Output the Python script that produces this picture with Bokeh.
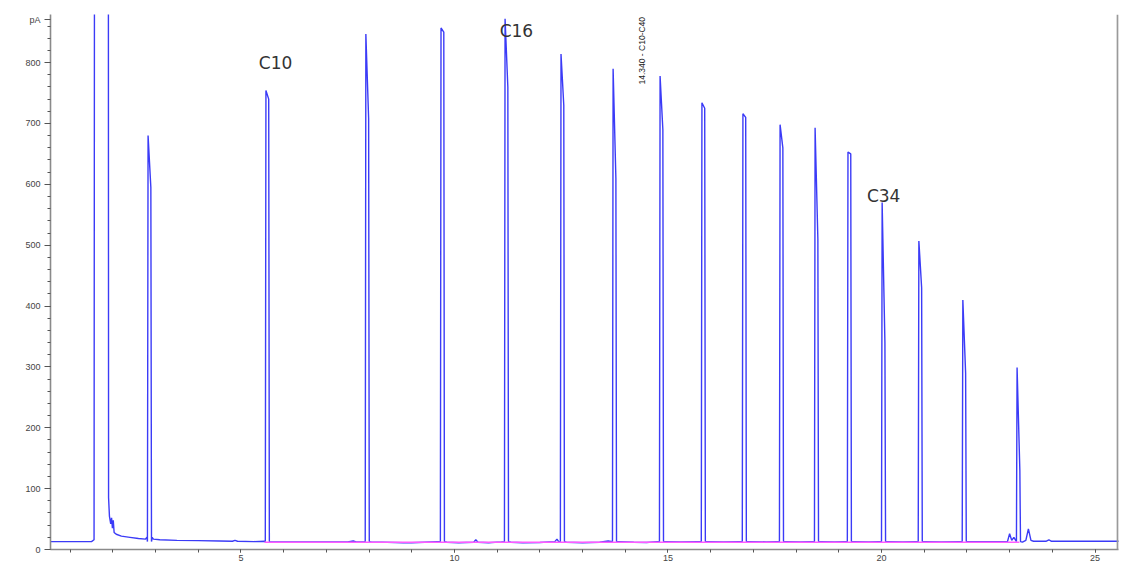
from bokeh.plotting import figure
from bokeh.models import Range1d, SingleIntervalTicker, FixedTicker, Span
from bokeh.embed import file_html
from bokeh.resources import INLINE
from bokeh.core.properties import value

# ---- data ----
# baseline / non-peak samples of the signal (time in min, signal in pA)
base_t = [0.54, 1.50, 1.56, 1.59, 1.885, 1.90, 1.92, 1.95, 1.97, 1.99, 2.01, 2.03, 2.08, 2.20, 2.40,
          2.60, 2.76, 2.80, 2.92, 2.95, 3.10, 3.50, 4.00, 4.50, 4.80, 4.86, 4.92, 5.30, 5.55,
          5.70, 6.50, 7.50, 7.63, 7.70, 8.05, 8.80, 9.00, 9.30, 9.60, 9.82, 10.10, 10.45, 10.50,
          10.55, 10.80, 11.10, 11.32, 11.60, 12.00, 12.35, 12.40, 12.44, 12.62, 13.00, 13.40,
          13.60, 13.85, 14.20, 14.50, 14.75, 14.95, 15.30, 15.70, 15.93, 16.30, 16.68, 16.90,
          17.30, 17.55, 17.76, 18.10, 18.37, 18.58, 18.90, 19.14, 19.35, 19.70, 19.94, 20.15,
          20.50, 20.80, 21.01, 21.40, 21.83, 22.04, 22.50, 22.95, 23.00, 23.05, 23.10, 23.30,
          23.38, 23.44, 23.50, 23.56, 23.85, 23.92, 23.98, 25.60]
base_v = [13, 13, 16, 3000, 3000, 85, 55, 42, 52, 35, 48, 28, 25, 22, 20,
          18, 17, 20, 20, 17, 16, 15, 14.5, 14, 13.5, 15, 13.5, 13, 13.5,
          12.5, 12.5, 12.5, 14, 12.5, 12.5, 11, 11, 12, 13, 12, 11, 12, 16,
          12, 11, 12.5, 12, 11, 11.5, 13, 17, 13, 12, 11, 12,
          14, 13, 12, 11.5, 13, 13, 12.5, 13, 13, 12.5, 13, 13,
          12.5, 13, 13, 12.5, 13, 13, 12.5, 13, 13, 12.5, 13, 13,
          12.5, 13, 13, 12.5, 13, 13, 13, 13, 26, 15, 20, 12,
          15, 34, 15, 13.5, 13.5, 16, 13.5, 13.5]

# main peaks: retention time, apex height, second (falling-edge) level
peak_t = [2.86, 5.62, 7.96, 9.72, 11.22, 12.53, 13.75, 14.85, 15.83, 16.79, 17.66, 18.48,
          19.25, 20.05, 20.91, 21.94, 23.21]
peak_h = [680, 754, 847, 857, 872, 814, 790, 778, 734, 716, 698, 693,
          653, 570, 507, 410, 299]
peak_h2 = [595, 740, 708, 850, 760, 730, 610, 690, 725, 710, 660, 510,
           650, 340, 430, 290, 130]

# integration baseline (magenta)
pink_t = [5.55, 23.23]
pink_v = [12, 12]

# annotations
label_text = ["C10", "C16", "C34"]
label_t = [5.81, 11.45, 20.05]
label_v = [800, 852, 581]
event_text = "14.340 - C10-C40"
event_t = 14.38
event_v = 764

y_ticks = [0, 100, 200, 300, 400, 500, 600, 700, 800, 870]
y_tick_labels = {870: "pA"}

# ---- build trace ----
pts = list(zip(base_t, base_v))
for t, h, h2 in zip(peak_t, peak_h, peak_h2):
    pts += [(t - 0.05, 13), (t - 0.035, h), (t + 0.03, h2), (t + 0.045, 13)]
pts.sort(key=lambda q: q[0])
trace_t = [q[0] for q in pts]
trace_v = [q[1] for q in pts]

p = figure(width=1126, height=567, output_backend="svg", toolbar_location=None,
           x_range=Range1d(0.54, 25.55), y_range=Range1d(0, 879),
           min_border_left=50, min_border_right=8, min_border_top=14, min_border_bottom=18)
p.background_fill_color = "white"
p.border_fill_color = "white"
p.outline_line_color = None
p.grid.visible = False

p.line(trace_t, trace_v, line_color="#3b3bf7", line_width=1.4)
p.line(pink_t, pink_v, line_color="#ff5cff", line_width=1.5)

p.text(x=label_t, y=label_v, text=label_text, text_font=value("DejaVu Sans"),
       text_font_size="17px", text_color="#333333", text_align="center",
       text_baseline="middle")
p.text(x=[event_t], y=[event_v], text=[event_text], angle=1.5708,
       text_font=value("Liberation Sans"), text_font_size="8.5px", text_color="#222222",
       text_align="left", text_baseline="middle")

p.add_layout(Span(location=25.53, dimension="height", line_color="#9a9a9a", line_width=2))

# axes
p.xaxis.ticker = SingleIntervalTicker(interval=5, num_minor_ticks=5)
p.yaxis.ticker = FixedTicker(ticks=y_ticks, minor_ticks=list(range(0, 880, 20)))
p.yaxis.major_label_overrides = y_tick_labels
for ax in (p.xaxis[0], p.yaxis[0]):
    ax.axis_line_color = "#8a8a8a"
    ax.axis_line_width = 1.6
    ax.major_tick_line_color = "#555555"
    ax.minor_tick_line_color = "#555555"
    ax.major_tick_in = 0
    ax.minor_tick_in = 0
    ax.major_label_text_font = "Liberation Sans"
    ax.major_label_text_font_size = "9px"
    ax.major_label_text_color = "#444444"
p.xaxis.major_tick_out = 3
p.xaxis.minor_tick_out = 3
p.xaxis.major_label_standoff = 2
p.yaxis.major_tick_out = 6
p.yaxis.minor_tick_out = 3
p.yaxis.major_label_standoff = 4

open("out.html", "w").write(file_html(p, INLINE))
